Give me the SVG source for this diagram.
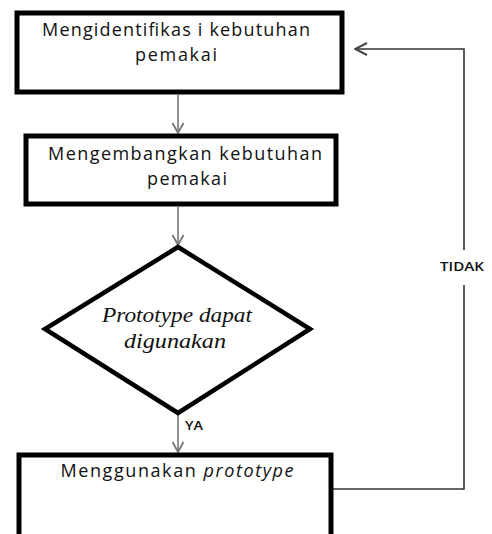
<svg xmlns="http://www.w3.org/2000/svg" width="492" height="534" viewBox="0 0 492 534">
<style>
.box{fill:#fff;stroke:#000;stroke-width:5}
.dia{fill:#fff;stroke:#000;stroke-width:4.5;stroke-linejoin:miter}
.t{font-family:"Open Sans","Liberation Sans",sans-serif;font-size:18px;fill:#111;text-anchor:middle}
.it{font-family:"Liberation Serif",serif;font-style:italic;font-size:20px;fill:#111;text-anchor:middle}
.c{fill:none;stroke:#777;stroke-width:1.6}
.fb{fill:none;stroke:#333;stroke-width:1.6}
.lb{font-family:"Open Sans","Liberation Sans",sans-serif;font-size:13px;font-weight:600;fill:#111}
</style>
<defs>
<marker id="v" viewBox="0 0 12 12" refX="11" refY="6" markerWidth="12" markerHeight="12" markerUnits="userSpaceOnUse" orient="auto">
<path d="M1,0.5 L11,6 L1,11.5" fill="none" stroke="#777" stroke-width="1.8"/>
</marker>
<marker id="v2" viewBox="0 0 14 14" refX="13" refY="7" markerWidth="14" markerHeight="14" markerUnits="userSpaceOnUse" orient="auto">
<path d="M1,1 L13,7 L1,13" fill="none" stroke="#444" stroke-width="2"/>
</marker>
</defs>
<rect width="492" height="534" fill="#fff"/>
<g id="connectors">
<line class="c" x1="178" y1="95" x2="178" y2="133" marker-end="url(#v)"/>
<line class="c" x1="178" y1="207" x2="178" y2="245" marker-end="url(#v)"/>
<line class="c" x1="178" y1="415" x2="178" y2="452" marker-end="url(#v)"/>
<polyline class="fb" points="333,489 464,489 464,285"/>
<polyline class="fb" points="464,250 464,49 355,49" marker-end="url(#v2)"/>
<text class="lb" x="185" y="430" textLength="18" lengthAdjust="spacingAndGlyphs">YA</text>
<text class="lb" x="440" y="271" textLength="44" lengthAdjust="spacingAndGlyphs">TIDAK</text>
</g>
<g id="node1">
<rect class="box" x="17" y="13" width="325" height="79"/>
<text class="t" x="176" y="36" textLength="268" lengthAdjust="spacing">Mengidentifikas i kebutuhan</text>
<text class="t" x="176" y="61" textLength="82" lengthAdjust="spacing">pemakai</text>
</g>
<g id="node2">
<rect class="box" x="26" y="136" width="310" height="68"/>
<text class="t" x="185" y="160" textLength="274" lengthAdjust="spacing">Mengembangkan kebutuhan</text>
<text class="t" x="187" y="185" textLength="80" lengthAdjust="spacing">pemakai</text>
</g>
<g id="node3">
<polygon class="dia" points="178,247 310,329 178,413 45,329"/>
<text class="it" x="177" y="322" textLength="150" lengthAdjust="spacingAndGlyphs">Prototype dapat</text>
<text class="it" x="175" y="348" textLength="102" lengthAdjust="spacingAndGlyphs">digunakan</text>
</g>
<g id="node4">
<rect class="box" x="19" y="455" width="312" height="90"/>
<text class="t" x="177" y="477" textLength="233" lengthAdjust="spacing">Menggunakan <tspan font-style="italic">prototype</tspan></text>
</g>
</svg>
